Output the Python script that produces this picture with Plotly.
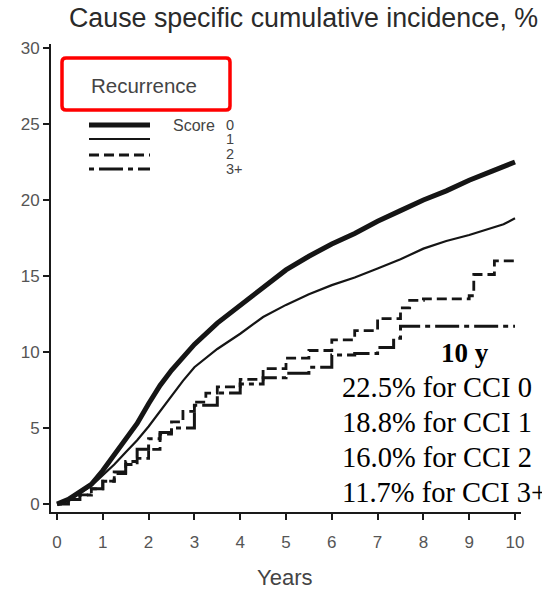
import plotly.graph_objects as go

# Follow-up time (years) and cumulative incidence of recurrence (%) by comorbidity score
t0 = [0, 0.25, 0.5, 0.75, 1.0, 1.25, 1.5, 1.75, 2.0, 2.25, 2.5, 2.75, 3.0, 3.5, 4.0,
      4.5, 5.0, 5.5, 6.0, 6.5, 7.0, 7.5, 8.0, 8.5, 9.0, 9.5, 10.0]
score0 = [0, 0.3, 0.8, 1.3, 2.2, 3.2, 4.2, 5.3, 6.6, 7.8, 8.8, 9.7, 10.5, 11.9, 13.1,
          14.3, 15.4, 16.3, 17.1, 17.8, 18.6, 19.3, 20.0, 20.6, 21.3, 21.9, 22.5]

t1 = [0, 0.25, 0.5, 0.75, 1.0, 1.25, 1.5, 1.75, 2.0, 2.25, 2.5, 2.75, 3.0, 3.5, 4.0,
      4.5, 5.0, 5.5, 6.0, 6.5, 7.0, 7.5, 8.0, 8.5, 9.0, 9.5, 9.75, 10.0]
score1 = [0, 0.3, 0.7, 1.2, 1.9, 2.6, 3.4, 4.2, 5.1, 6.1, 7.1, 8.1, 9.0, 10.2, 11.2,
          12.3, 13.1, 13.8, 14.4, 14.9, 15.5, 16.1, 16.8, 17.3, 17.7, 18.2, 18.4, 18.8]

t2 = [0, 0.25, 0.5, 0.75, 1.0, 1.25, 1.5, 1.75, 2.0, 2.25, 2.5, 2.75, 3.0, 3.25, 3.5,
      4.0, 4.5, 5.0, 5.5, 6.0, 6.5, 7.0, 7.5, 7.7, 8.0, 9.0, 9.1, 9.55, 10.0]
score2 = [0, 0.3, 0.6, 1.0, 1.5, 2.0, 2.6, 3.0, 3.6, 4.6, 5.4, 6.1, 6.7, 7.3, 7.7,
          8.2, 8.9, 9.6, 10.1, 10.8, 11.4, 12.2, 12.9, 13.4, 13.5, 13.7, 15.1, 16.0, 16.0]

t3 = [0, 0.25, 0.5, 0.75, 1.0, 1.25, 1.5, 1.75, 2.0, 2.25, 2.5, 3.0, 3.5, 4.0, 4.5,
      5.0, 5.5, 6.0, 6.5, 7.0, 7.35, 7.5, 10.0]
score3 = [0, 0.3, 0.6, 1.0, 1.5, 2.1, 2.8, 3.6, 4.3, 4.7, 5.0, 6.5, 7.3, 7.9, 8.3,
          8.6, 9.0, 9.8, 9.9, 10.3, 10.9, 11.7, 11.7]

x_ticks = list(range(0, 11))
y_ticks = [0, 5, 10, 15, 20, 25, 30]

series = [
    ("0", t0, score0, dict(width=5, dash="solid"), "linear"),
    ("1", t1, score1, dict(width=2.2, dash="solid"), "linear"),
    ("2", t2, score2, dict(width=2.8, dash="10px,5px"), "hv"),
    ("3+", t3, score3, dict(width=3, dash="5px,5px,24px,5px"), "hv"),
]

INK = "#151515"
fig = go.Figure()
for name, tx, vy, ln, shape in series:
    fig.add_trace(go.Scatter(x=tx, y=vy, mode="lines", name=name, line_shape=shape,
                             line=dict(color=INK, **ln), showlegend=False))

# Figure geometry (pixels) used to place decorations in paper coordinates
W, H = 542, 589
L, R, T, B = 51, 21, 44, 77
PW, PH = W - L - R, H - T - B


def px(x):
    return (x - L) / PW


def py(y):
    return (H - B - y) / PH


shapes = []
# Legend box
bx0, bx1, by0, by1, r = px(62), px(230), py(58), py(110), 4
rx, ry = r / PW, r / PH
path = (f"M {bx0+rx},{by0} L {bx1-rx},{by0} Q {bx1},{by0} {bx1},{by0-ry} "
        f"L {bx1},{by1+ry} Q {bx1},{by1} {bx1-rx},{by1} "
        f"L {bx0+rx},{by1} Q {bx0},{by1} {bx0},{by1+ry} "
        f"L {bx0},{by0-ry} Q {bx0},{by0} {bx0+rx},{by0} Z")
shapes.append(dict(type="path", path=path, xref="paper", yref="paper",
                   line=dict(color="#ff0000", width=3.5)))

# Legend line samples
legend_y = [125, 139, 155, 169]
for (name, tx, vy, ln, shape), ly in zip(series, legend_y):
    shapes.append(dict(type="line", xref="paper", yref="paper",
                       x0=px(89), x1=px(150), y0=py(ly), y1=py(ly),
                       line=dict(color=INK, width=ln["width"], dash=ln["dash"])))

annotations = []
GRAY = "#444444"
annotations.append(dict(text="Cause specific cumulative incidence, %", xref="paper", yref="paper",
                        x=px(540), y=py(18), xanchor="right", yanchor="middle", showarrow=False,
                        font=dict(family="Liberation Sans, Arial", size=26.8, color="#2a2a2a")))
annotations.append(dict(text="Years", xref="paper", yref="paper", x=px(284), y=py(577),
                        xanchor="center", yanchor="middle", showarrow=False,
                        font=dict(family="Liberation Sans, Arial", size=22, color=GRAY)))
annotations.append(dict(text="Recurrence", xref="paper", yref="paper", x=px(89), y=py(85),
                        xanchor="left", yanchor="middle", showarrow=False,
                        font=dict(family="Liberation Sans, Arial", size=20.5, color=GRAY)))
annotations.append(dict(text="Score", xref="paper", yref="paper", x=px(171), y=py(125),
                        xanchor="left", yanchor="middle", showarrow=False,
                        font=dict(family="Liberation Sans, Arial", size=16, color=GRAY)))
for (name, *_), ly in zip(series, [125, 139, 154, 169]):
    annotations.append(dict(text=name, xref="paper", yref="paper", x=px(224), y=py(ly),
                            xanchor="left", yanchor="middle", showarrow=False,
                            font=dict(family="Liberation Sans, Arial", size=14.5, color=GRAY)))

# Ten-year cumulative incidence summary
annotations.append(dict(text="<b>10 y</b>", xref="paper", yref="paper", x=px(465), y=py(353),
                        xanchor="center", yanchor="middle", showarrow=False,
                        font=dict(family="Liberation Serif, Times New Roman", size=27, color="black")))
for (name, tx, vy, ln, shape), ly in zip(series, [387, 422, 457, 492]):
    annotations.append(dict(text=f"{vy[-1]:.1f}% for CCI {name}", xref="paper", yref="paper",
                            x=px(340), y=py(ly), xanchor="left", yanchor="middle", showarrow=False,
                            font=dict(family="Liberation Serif, Times New Roman", size=28.5,
                                      color="black")))

axis_common = dict(showline=True, linecolor="#1a1a1a", linewidth=2, ticks="outside",
                   ticklen=6, tickwidth=1.5, tickcolor="#1a1a1a", showgrid=False, zeroline=False,
                   tickfont=dict(family="Liberation Sans, Arial", size=17, color="#555555"))

fig.update_layout(
    width=W, height=H, margin=dict(l=L, r=R, t=T, b=B),
    paper_bgcolor="white", plot_bgcolor="white",
    xaxis=dict(range=[-6 / 45.8, 10 + 6 / 45.8], tickvals=x_ticks, ticklabelstandoff=8,
               **axis_common),
    yaxis=dict(range=[-8 / 15.2, 30 + 4 / 15.2], tickvals=y_ticks, **axis_common),
    shapes=shapes, annotations=annotations,
)

fig.write_html("out.html")
